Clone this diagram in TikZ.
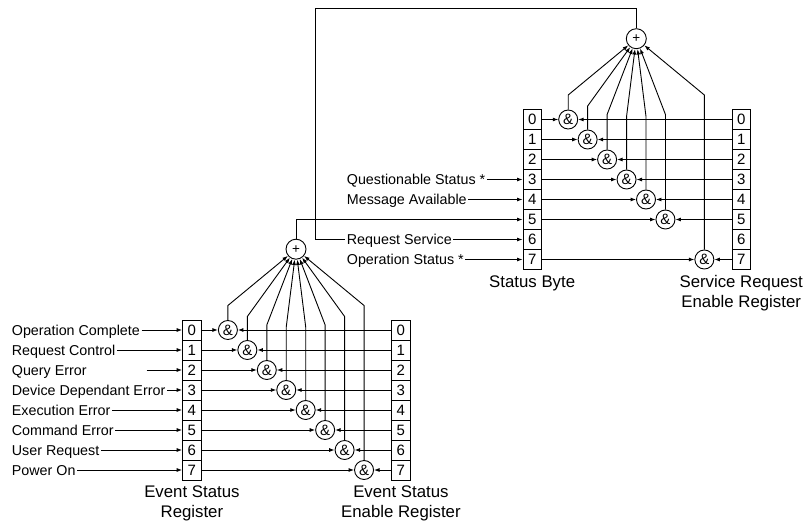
\documentclass[tikz,border=0pt]{standalone}
\usepackage{fontspec}
\setmainfont{Liberation Sans}
\usetikzlibrary{arrows.meta}
\tikzset{
  cell/.style={draw, line width=0.9pt, minimum width=18.5pt, minimum height=20pt, inner sep=0pt, font=\fontsize{15}{16}\selectfont},
  andg/.style={draw, line width=0.9pt, circle, minimum size=19pt, inner sep=0pt, font=\fontsize{15}{15}\selectfont},
  orgate/.style={draw, line width=0.9pt, circle, minimum size=20pt, inner sep=0pt, font=\fontsize{13.5}{14}\selectfont},
  lbl/.style={anchor=west, inner sep=1.5pt, text height=10.2pt, text depth=0pt, font=\fontsize{14.3}{16}\selectfont},
  ttl/.style={align=center, font=\fontsize{16.8}{20}\selectfont, inner sep=0pt},
  arr/.style={line width=0.9pt, -{Latex[length=5.5pt,width=4pt]}},
}
\begin{document}
\begin{tikzpicture}[x=1pt,y=-1pt]
\useasboundingbox (0,0) rectangle (809,522);
% ---------- upper block: Status Byte ----------
\begin{scope}[shift={(532.2,109.5)}, name prefix=u-]
  \foreach \i in {0,...,7} {
    \node[cell] (b\i) at (0,10+20*\i) {\i};
    \node[cell] (e\i) at (209,10+20*\i) {\i};
  }
  \node[orgate] (p) at (104.1,-70.8) {+};
  \foreach \i/\b in {0/-14.5,1/-3.5,2/5,3/7,4/7,5/5,7/-14.5} {
    \node[andg] (g\i) at (36+19.45*\i,10+20*\i) {\&};
    \draw[arr] (b\i) -- (g\i);
    \draw[arr] (e\i) -- (g\i);
    \draw[arr] (g\i.north) -- (36+19.45*\i,\b) -- (p);
  }
  \node[ttl] (t1) at (0,173.5) {Status Byte};
  \node[ttl] (t2) at (209,183.3) {Service Request\\Enable Register};
\end{scope}
% ---------- lower block: Event Status Register ----------
\begin{scope}[shift={(191.9,320)}, name prefix=l-]
  \foreach \i in {0,...,7} {
    \node[cell] (b\i) at (0,10+20*\i) {\i};
    \node[cell] (e\i) at (209,10+20*\i) {\i};
  }
  \node[orgate] (p) at (104.1,-70.8) {+};
  \foreach \i/\b in {0/-14.5,1/-3.5,2/5,3/7,4/7,5/5,6/-3.5,7/-14.5} {
    \node[andg] (g\i) at (36+19.45*\i,10+20*\i) {\&};
    \draw[arr] (b\i) -- (g\i);
    \draw[arr] (e\i) -- (g\i);
    \draw[arr] (g\i.north) -- (36+19.45*\i,\b) -- (p);
  }
  \node[ttl] (t1) at (0,183.3) {Event Status\\Register};
  \node[ttl] (t2) at (209,183.3) {Event Status\\Enable Register};
\end{scope}
% ---------- connections between blocks ----------
\coordinate (c1) at (315,8);
\draw[arr] (u-p.north) |- (c1) |- (u-b6.west);
\draw[arr] (l-p.north) |- (u-b5.west);
% ---------- Status Byte inputs ----------
\node[lbl] (s3) at (345.2,179.5) {Questionable Status *};
\node[lbl] (s4) at (345.2,199.5) {Message Available};
\node[lbl, fill=white] (s6) at (345.2,239.5) {Request Service};
\node[lbl] (s7) at (345.2,259.5) {Operation Status *};
\draw[arr] (s3.east) -- (u-b3.west);
\draw[arr] (s4.east) -- (u-b4.west);
\draw[arr] (s7.east) -- (u-b7.west);
% ---------- Event Status Register inputs ----------
\node[lbl] (r0) at (10.2,330) {Operation Complete};
\node[lbl] (r1) at (10.2,350) {Request Control};
\node[lbl] (r2) at (10.2,370) {Query Error};
\node[lbl] (r3) at (10.2,390) {Device Dependant Error};
\node[lbl] (r4) at (10.2,410) {Execution Error};
\node[lbl] (r5) at (10.2,430) {Command Error};
\node[lbl] (r6) at (10.2,450) {User Request};
\node[lbl] (r7) at (10.2,470) {Power On};
\coordinate (q2) at (146.7,370);
\foreach \i in {0,1,3,4,5,6,7} {
  \draw[arr] (r\i.east) -- (l-b\i.west);
}
\draw[arr] (q2) -- (l-b2.west);
\end{tikzpicture}
\end{document}
